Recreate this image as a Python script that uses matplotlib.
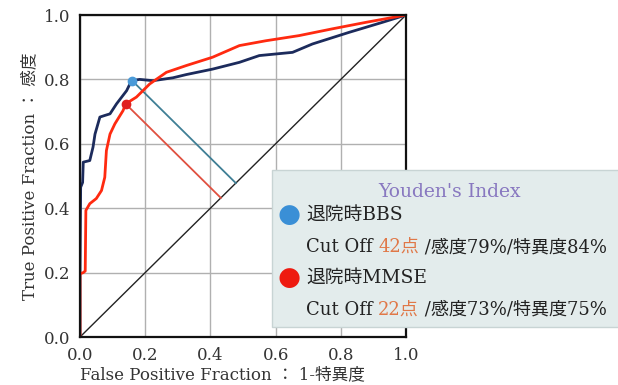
import matplotlib.pyplot as plt
import numpy as np

plt.rcParams['font.family'] = ['DejaVu Serif', 'Noto Sans CJK JP']

# ROC curve (FPF, TPF)
bbs_fpf = [0.0, 0.0, 0.002, 0.008, 0.010, 0.030, 0.040, 0.046, 0.061, 0.076, 0.092, 0.112,
           0.143, 0.158, 0.183, 0.224, 0.285, 0.326, 0.407, 0.489, 0.550, 0.652, 0.713,
           0.825, 0.927, 1.0]
bbs_tpf = [0.0, 0.20, 0.465, 0.48, 0.543, 0.548, 0.59, 0.63, 0.683, 0.688, 0.693, 0.724,
           0.765, 0.796, 0.800, 0.796, 0.805, 0.815, 0.832, 0.853, 0.874, 0.884, 0.910,
           0.946, 0.977, 1.0]
mmse_fpf = [0.0, 0.0, 0.010, 0.016, 0.018, 0.030, 0.050, 0.066, 0.076, 0.081, 0.092, 0.107,
            0.132, 0.140, 0.173, 0.214, 0.265, 0.326, 0.407, 0.489, 0.570, 0.672, 0.774,
            0.876, 1.0]
mmse_tpf = [0.0, 0.196, 0.20, 0.205, 0.393, 0.414, 0.430, 0.455, 0.496, 0.579, 0.630, 0.662,
            0.703, 0.724, 0.745, 0.786, 0.822, 0.843, 0.869, 0.905, 0.920, 0.936, 0.957,
            0.977, 1.0]

# Youden cut-off points
bbs_cut = (0.160, 0.796)
mmse_cut = (0.140, 0.724)

ticks = [0.0, 0.2, 0.4, 0.6, 0.8, 1.0]

fig = plt.figure(figsize=(6.18, 3.85), dpi=100)
ax = fig.add_axes([80/618, 48/385, 326/618, 322/385])

ax.grid(True, color='#b0b0b0', linewidth=1.0)
ax.set_axisbelow(True)

ax.plot([0, 1], [0, 1], color='#222222', linewidth=1.0)

# perpendicular lines to the diagonal
for (x, y), c in [(bbs_cut, '#3f7f95'), (mmse_cut, '#e05040')]:
    m = (x + y) / 2
    ax.plot([x, m], [y, m], color=c, linewidth=1.3)

ax.plot(bbs_fpf, bbs_tpf, color='#1c2b5c', linewidth=2.0)
ax.plot(mmse_fpf, mmse_tpf, color='#ff2a10', linewidth=2.0)
ax.plot(*bbs_cut, 'o', color='#4a9ad8', markersize=6)
ax.plot(*mmse_cut, 'o', color='#e02020', markersize=6)

ax.set_xlim(0, 1.0)
ax.set_ylim(0, 1.0)
ax.set_xticks(ticks)
ax.set_yticks(ticks)
ax.set_xticklabels([f'{t:.1f}' for t in ticks])
ax.set_yticklabels([f'{t:.1f}' for t in ticks])
ax.tick_params(length=0, labelsize=12, colors='#333333', pad=7)
for s in ax.spines.values():
    s.set_linewidth(1.6)
    s.set_color('#111111')

ax.set_xlabel('False Positive Fraction ： 1-特異度', fontsize=12, color='#333333',
              ha='left', va='top')
ax.xaxis.set_label_coords(0.0, -0.092)
ax.set_ylabel('True Positive Fraction ： 感度', fontsize=12, color='#333333', labelpad=4)

# legend box
W, H = 618, 385
box = plt.Rectangle((272/W, (H-327)/H), 360/W, 157/H, transform=fig.transFigure,
                    facecolor='#e3ecec', edgecolor='#c8d4d4', linewidth=1.0, zorder=5)
fig.patches.append(box)

fig.text(450/W, (H-192)/H, "Youden's Index", color='#8878c0', fontsize=13.5,
         ha='center', va='center', zorder=6)

rows = [
    ('#3a8fd6', '退院時BBS', '42点', ' /感度79%/特異度84%', 215, 247),
    ('#ee1a10', '退院時MMSE', '22点', ' /感度73%/特異度75%', 278, 310),
]
fs = 13
for col, name, cut, rest, y1, y2 in rows:
    fig.text(289/W, (H-y1)/H, '●', color=col, fontsize=19, ha='center', va='center',
             zorder=7, family=['DejaVu Sans'])
    fig.text(306/W, (H-y1)/H, name, fontsize=13.5, color='#222222', va='center', zorder=7)
    t1 = fig.text(306/W, (H-y2)/H, 'Cut Off ', fontsize=fs, color='#222222',
                  va='center', zorder=7)
    fig.canvas.draw()
    bb = t1.get_window_extent()
    t2 = fig.text(bb.x1 / W, (H-y2)/H, cut, fontsize=fs, color='#e07848',
                  va='center', zorder=7)
    fig.canvas.draw()
    bb2 = t2.get_window_extent()
    fig.text(bb2.x1 / W, (H-y2)/H, rest, fontsize=fs, color='#222222',
             va='center', zorder=7)

fig.savefig('out.png', dpi=100)
